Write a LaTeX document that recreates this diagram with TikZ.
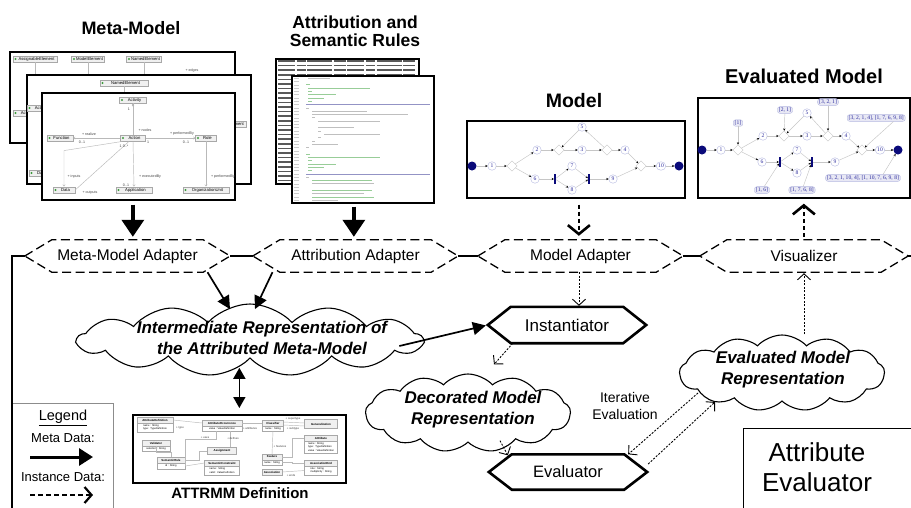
\documentclass[tikz,border=0pt]{standalone}
\usepackage{fontspec}
\setmainfont{Liberation Sans}
\newfontfamily\smallserif{Liberation Serif}
\usetikzlibrary{arrows.meta,shapes.geometric,shapes.symbols,calc}

\definecolor{nblue}{HTML}{2B2B9E}
\definecolor{nborder}{HTML}{B4B8E0}
\definecolor{lblfill}{HTML}{E8E8F4}
\definecolor{darkdot}{HTML}{0A0A7A}
\definecolor{umlgray}{HTML}{A8A8A8}
\definecolor{umlfill}{HTML}{F0F0F0}
\definecolor{iconc}{HTML}{3C9A3C}
\definecolor{legendgray}{HTML}{8C8C8C}

\newcommand\hexdraw[3]{%
  \draw[#1] (#2.west) -- ([xshift=#3]#2.north west) -- ([xshift=-#3]#2.north east)
    -- (#2.east) -- ([xshift=-#3]#2.south east) -- ([xshift=#3]#2.south west) -- cycle;}
\newcommand\umlbox[7]{%
  \node[umlh, minimum width=#4] (#1) at (#2,#3) {#5};
  \node[umlb, minimum width=#4, minimum height=#7, anchor=north] (#1b) at (#1.south) {#6};}

\tikzset{
  title/.style={font=\fontsize{18}{20}\selectfont\bfseries, inner sep=0, align=center},
  shot/.style={draw=black, line width=1.7pt, fill=white, inner sep=0, anchor=north west},
  hexbox/.style={inner sep=0, minimum height=32pt, font=\fontsize{15.5}{17}\selectfont},
  adapter/.style={line width=1.3pt, dash pattern=on 9pt off 4.5pt},
  engine/.style={line width=2.6pt, line join=miter},
  cloudbox/.style={cloud, cloud puffs=13, cloud puff arc=95, draw, line width=1.1pt, fill=white, inner sep=0},
  cloudtext/.style={font=\fontsize{17}{21}\selectfont\bfseries\itshape, align=center, inner sep=0},
  metaarrow/.style={line width=3.4pt, -{Triangle[length=17pt,width=22pt]}},
  metathin/.style={line width=1.7pt, -{Triangle[length=13pt,width=13pt]}},
  metaboth/.style={line width=1.7pt, {Triangle[length=11pt,width=12pt]}-{Triangle[length=11pt,width=12pt]}},
  instthick/.style={line width=2.6pt, dash pattern=on 4pt off 3pt, -{Straight Barb[length=9pt,width=22pt,line width=2.6pt]}},
  instthin/.style={line width=0.9pt, dash pattern=on 2pt off 1.5pt, -{Straight Barb[length=6pt,width=13pt,line width=0.9pt]}},
  bound/.style={line width=1.3pt},
  uml/.style={draw=umlgray, fill=umlfill, line width=0.35pt, font=\fontsize{4.2}{5}\selectfont, inner xsep=1pt, inner ysep=0.8pt, minimum height=6.5pt},
  umlline/.style={draw=gray!55, line width=0.45pt},
  umllbl/.style={font=\fontsize{3.6}{4}\selectfont, inner sep=0, text=gray!50!black},
  umlh/.style={draw=umlgray, fill=umlfill, line width=0.3pt, font=\fontsize{2.9}{3.4}\selectfont\bfseries, inner sep=0.6pt, minimum height=5.5pt},
  umlb/.style={draw=umlgray, fill=white, line width=0.3pt, font=\fontsize{2.6}{3.1}\selectfont, inner sep=0.6pt, align=left},
  mn/.style={ellipse, draw=nborder, fill=white, line width=0.4pt, inner sep=0.6pt, minimum size=8.5pt, font=\smallserif\fontsize{5.6}{6}\selectfont, text=nblue},
  mdia/.style={diamond, draw=gray!45, fill=white, line width=0.4pt, minimum size=10.5pt, inner sep=0},
  mdot/.style={circle, fill=darkdot, minimum size=9pt, inner sep=0},
  mbar/.style={rectangle, fill=darkdot, minimum width=1.8pt, minimum height=10.5pt, inner sep=0},
  medge/.style={draw=gray!45, line width=0.45pt, -{Stealth[length=2.3pt,width=2.2pt,black]}},
  elbl/.style={rectangle, rounded corners=2.5pt, fill=lblfill, draw=nborder, line width=0.35pt, font=\smallserif\fontsize{5.6}{6}\selectfont, text=nblue, inner xsep=1.5pt, inner ysep=1pt},
  codek/.style={draw=gray!50, line width=0.9pt},
  codeg/.style={draw=green!35!gray!60, line width=0.9pt},
  codeb/.style={draw=blue!30!gray!65, line width=0.9pt},
  codeback/.style={draw=black!65, line width=1.5pt, dash pattern=on 17pt off 1.6pt on 9pt off 1.6pt on 25pt off 1.6pt on 12pt off 1.6pt}
}

\begin{document}
\begin{tikzpicture}[x=1pt,y=-1pt]
\useasboundingbox (0,0) rectangle (911,507);
\fill[white] (0,0) rectangle (911,507);

% ---------- titles
\node[title] (tmm) at (131,28) {Meta-Model};
\node[title, font=\fontsize{17.5}{18.5}\selectfont\bfseries] (tar) at (355,31) {Attribution and\\Semantic Rules};
\node[title, font=\fontsize{19.5}{20}\selectfont\bfseries] (tmo) at (574,101) {Model};
\node[title, font=\fontsize{20}{20}\selectfont\bfseries] (tem) at (804,76) {Evaluated Model};

% ---------- meta-model screenshots
\node[shot, minimum width=225pt, minimum height=91pt] (mmA) at (9,51) {};
\node[uml, minimum width=44pt] (u1) at (35,59) {\hspace{3pt}AssignableElement};
\node[uml, minimum width=33pt] (u2) at (88,59) {\hspace{3pt}ModelElement};
\node[uml, minimum width=35pt] (u3) at (144,59) {\hspace{3pt}NamedElement};
\draw[umlline] (u1.south) -- ++(0,20);
\draw[umlline] (u2.south) -- ++(0,20);
\draw[umlline] (u3.south) -- ++(0,20);
\node[umllbl] (lbA1) at (192,71) {+ edges};
\node[uml, minimum width=26pt] (u4) at (26,113) {\hspace{3pt}Activity};
\foreach \n in {u1,u2,u3,u4} \fill[iconc] ([xshift=2.6pt]\n.west) circle (1.1pt);

\node[shot, minimum width=224pt, minimum height=109pt] (mmB) at (26,74) {};
\node[uml, minimum width=48pt] (u5) at (124,83) {\hspace{3pt}NamedElement};
\draw[umlline] (u5.south) -- ++(0,12);
\node[uml, minimum width=26pt] (u6) at (40,108) {\hspace{3pt}Activity};
\node[uml, minimum width=36pt] (u7) at (228,124) {\hspace{3pt}ActivityElement};
\node[uml, minimum width=22pt] (u8) at (40,173) {\hspace{3pt}Data};
\foreach \n in {u5,u6,u7,u8} \fill[iconc] ([xshift=2.6pt]\n.west) circle (1.1pt);

\node[shot, minimum width=193pt, minimum height=107pt] (mmC) at (41,92) {};
\node[uml, minimum width=27pt] (fa) at (133,100) {\hspace{3pt}Activity};
\node[uml, minimum width=25pt] (fac) at (133,138) {\hspace{3pt}Action};
\node[uml, minimum width=26pt] (ff) at (60,138) {\hspace{3pt}Function};
\node[uml, minimum width=21pt] (fr) at (206,138) {\hspace{3pt}Role};
\node[uml, minimum width=22pt] (fd) at (64,190) {\hspace{3pt}Data};
\node[uml, minimum width=36pt] (fap) at (134,190) {\hspace{3pt}Application};
\node[uml, minimum width=46pt] (fo) at (206,190) {\hspace{3pt}OrganizationUnit};
\foreach \n in {fa,fac,ff,fr,fd,fap,fo} \fill[iconc] ([xshift=2.6pt]\n.west) circle (1.1pt);
\draw[umlline] (fa.south) -- (fac.north);
\fill[gray!60] (fa.south) -- ++(1.2,1.6) -- ++(-1.2,1.6) -- ++(-1.2,-1.6) -- cycle;
\draw[umlline, -{Straight Barb[length=1.6pt,width=2.4pt]}] (fac.west) -- (ff.east);
\draw[umlline, -{Straight Barb[length=1.6pt,width=2.4pt]}] (fac.east) -- (fr.west);
\draw[umlline, -{Straight Barb[length=1.6pt,width=2.4pt]}] ([xshift=2pt]fac.south west) -- ($(fd.north)+(0,-36)$) -- (fd.north);
\draw[umlline] (fd.east) -- ([xshift=-4pt]fac.south);
\draw[umlline, -{Straight Barb[length=1.6pt,width=2.4pt]}] (fac.south) -- (fap.north);
\draw[umlline, -{Straight Barb[length=1.6pt,width=2.4pt]}] (fr.south) -- (fo.north);
\node[umllbl] (l1) at (89,134) {+ realize};
\node[umllbl] (l2) at (82,142) {0..1};
\node[umllbl] (l3) at (145,130) {+ nodes};
\node[umllbl] (l4) at (129,109) {1};
\node[umllbl] (l5) at (182,134) {+ performedBy};
\node[umllbl] (l6) at (186,142) {0..1};
\node[umllbl] (l7) at (148,142) {1};
\node[umllbl] (l8) at (124,146) {1\,\,0..*};
\node[umllbl] (l9) at (74,177) {+ inputs};
\node[umllbl] (l10) at (90,193) {+ outputs};
\node[umllbl] (l11) at (150,177) {+ executedBy};
\node[umllbl] (l12) at (126,185) {0..1};
\node[umllbl] (l13) at (223,177) {+ performedBy};

% ---------- code screenshots
\node[shot, minimum width=143pt, minimum height=125pt] (cdA) at (275,58) {};
\foreach \k in {0,...,26} \draw[codeback] (278,61+4.6*\k) -- (415,61+4.6*\k);
\node[shot, minimum width=142pt, minimum height=127pt] (cdB) at (291,75) {};
\foreach \ind/\len/\st [count=\i] in {8/22/codek, 0/0/codek, 6/4/codeg, 8/62/codeg, 8/4/codeg, 8/28/codeg, 8/16/codeg, 8/4/codeg, 6/124/codeb, 6/3/codek, 12/55/codek, 12/96/codek, 12/3/codek, 18/62/codek, 18/0/codek, 18/36/codek, 18/3/codek, 24/56/codek, 18/3/codek, 12/3/codek, 12/26/codek, 6/3/codek, 0/0/codek, 6/4/codeg, 8/72/codeg, 8/4/codeg, 8/28/codeg, 8/16/codeg, 8/4/codeg, 6/124/codeb, 6/3/codek, 12/60/codeg, 12/62/codek, 0/0/codek, 12/60/codeg, 12/52/codek, 12/62/codeg, 12/26/codek}
{
  \draw[gray!40, line width=0.8pt] (294,75+3.3*\i) -- (298.5,75+3.3*\i);
  \draw[\st] (300+\ind,75+3.3*\i) -- ++(\len,0);
}

% ---------- model screenshot
\node[shot, minimum width=218pt, minimum height=77pt] (mof) at (466,120) {};
\node[mdot] (s0) at (472,166) {};
\node[mn] (n1) at (492,166) {1};
\node[mdia] (d1) at (512,166) {};
\node[mn] (n2) at (537,150) {2};
\node[mdia] (d2) at (559,150) {};
\node[mn] (n3) at (582,150) {3};
\node[mn] (n5) at (582,127) {5};
\node[mdia] (d3) at (607,150) {};
\node[mn] (n4) at (625,150) {4};
\node[mdia] (d4) at (641,166) {};
\node[mn] (n10) at (661,166) {10};
\node[mdot] (e0) at (679,166) {};
\node[mn] (n6) at (535,179) {6};
\node[mbar] (f1) at (555,179) {};
\node[mn] (n7) at (572,166) {7};
\node[mn] (n8) at (572,190) {8};
\node[mbar] (j1) at (589,179) {};
\node[mn] (n9) at (613,179) {9};
\foreach \a/\b in {s0/n1, n1/d1, d1/n2, d1/n6, n2/d2, d2/n3, n3/d3, d3/n4, d3/n5, n5/d2, n4/d4, n9/d4, d4/n10, n10/e0, n6/f1, f1/n7, f1/n8, n7/j1, n8/j1, j1/n9}
  \draw[medge] (\a) -- (\b);

% ---------- evaluated model screenshot
\node[shot, minimum width=212pt, minimum height=100pt] (emf) at (697,97) {};
\node[mdot] (es0) at (702,150) {};
\node[mn] (en1) at (721,150) {1};
\node[mdia] (ed1) at (738,150) {};
\node[mn] (en2) at (763,136) {2};
\node[mdia] (ed2) at (784,136) {};
\node[mn] (en3) at (807,136) {3};
\node[mn] (en5) at (807,113) {5};
\node[mdia] (ed3) at (828,136) {};
\node[mn] (en4) at (846,136) {4};
\node[mdia] (ed4) at (862,150) {};
\node[mn] (en10) at (880,150) {10};
\node[mdot] (ee0) at (898,150) {};
\node[mn] (en6) at (762,162) {6};
\node[mbar] (ef1) at (780,162) {};
\node[mn] (en7) at (797,150) {7};
\node[mn] (en8) at (797,173) {8};
\node[mbar] (ej1) at (812,162) {};
\node[mn] (en9) at (835,162) {9};
\foreach \a/\b in {es0/en1, en1/ed1, ed1/en2, ed1/en6, en2/ed2, ed2/en3, en3/ed3, ed3/en4, ed3/en5, en5/ed2, en4/ed4, en9/ed4, ed4/en10, en10/ee0, en6/ef1, ef1/en7, ef1/en8, en7/ej1, en8/ej1, ej1/en9}
  \draw[medge] (\a) -- (\b);
\node[elbl] (el1) at (738,123) {[1]};
\node[elbl] (el2) at (785,110) {[2, 1]};
\node[elbl] (el3) at (828,102) {[3, 2, 1]};
\node[elbl, anchor=west] (el4) at (847,118) {[3, 2, 1, 4], [1, 7, 6, 9, 8]};
\node[elbl] (el5) at (863,178) {[3, 2, 1, 10, 4], [1, 10, 7, 6, 9, 8]};
\node[elbl] (el6) at (762,190) {[1, 6]};
\node[elbl] (el7) at (802,190) {[1, 7, 6, 8]};
\draw[medge] (el1) -- (ed1);
\draw[medge] (el2) -- (ed2);
\draw[medge] (el3) -- (ed3);
\draw[medge] ([xshift=-12pt]el4.south east) -- (ed4);
\draw[medge] ([xshift=20pt]el5.north) -- (ee0);
\draw[medge] (el6) -- (ef1);
\draw[medge] (el7) -- (ej1);

% ---------- ATTRMM screenshot
\node[shot, minimum width=213pt, minimum height=68pt] (atf) at (132,414) {};
\umlbox{ad}{155}{420}{36pt}{AttributeDefinition}{name : String\\type : TypeDefinition}{9pt}
\umlbox{ao}{222}{423}{40pt}{AttributeOccurrence}{value : ValueDefinition}{5pt}
\umlbox{cl}{273}{423}{21pt}{Classifier}{name : String}{5pt}
\node[umlh, minimum width=33pt, minimum height=9pt] (ge) at (321,424) {Generalization};
\umlbox{va}{156}{443}{28pt}{Validator}{selection : String}{5pt}
\node[umlh, minimum width=29pt, minimum height=7pt] (as) at (222,451) {Assignment};
\umlbox{sr}{171}{460}{28pt}{SemanticRule}{id : String}{6pt}
\umlbox{sc}{222}{463}{35pt}{SemanticConstraint}{name : String\\valid : ValueDefinition}{9pt}
\umlbox{fe}{272}{457}{20pt}{Feature}{name : String}{5pt}
\umlbox{at}{321}{438}{33pt}{Attribute}{name : String\\type : TypeDefinition\\value : ValueDefinition}{12pt}
\umlbox{ae}{321}{463}{33pt}{AssociationEnd}{role : String\\multiplicity : String}{9pt}
\node[umlh, minimum width=20pt, minimum height=6pt] (an) at (272,472) {Association};
\draw[umlline] (ad.east) -- (ao.west);
\draw[umlline] (ao.east) -- (cl.west);
\draw[umlline] ([yshift=1pt]cl.east) -- ([yshift=1pt]ge.west);
\draw[umlline] ([yshift=-2pt]cl.east) -- ([yshift=-2pt]ge.west);
\draw[umlline] ([xshift=-6pt]aob.south) -- ++(0,8) -| (srb.east);
\draw[umlline] ([xshift=8pt]aob.south) -- (as.north -| 230,0);
\draw[umlline] (va.south) -- ++(0,6) -| (sr.north);
\draw[umlline] (as.west) -- ++(-8,0) |- (sr.east);
\draw[umlline] (sc.west) -- (srb.east);
\draw[umlline] (clb.south) -- (fe.north);
\draw[umlline] (fe.east) -- ++(10,0) |- (at.west);
\draw[umlline] (feb.east) -- ++(10,0) |- (ae.west);
\draw[umlline] (an.east) -- (aeb.west);
\node[umllbl, font=\fontsize{2.8}{3}\selectfont] (al1) at (180,428) {+ type};
\node[umllbl, font=\fontsize{2.8}{3}\selectfont] (al2) at (250,428) {+ attributes};
\node[umllbl, font=\fontsize{2.8}{3}\selectfont] (al3) at (293,419) {+ supertype};
\node[umllbl, font=\fontsize{2.8}{3}\selectfont] (al4) at (293,429) {+ subtype};
\node[umllbl, font=\fontsize{2.8}{3}\selectfont] (al5) at (205,438) {+ uses};
\node[umllbl, font=\fontsize{2.8}{3}\selectfont] (al6) at (233,438) {+ defines};
\node[umllbl, font=\fontsize{2.8}{3}\selectfont] (al7) at (280,446) {+ features};
\node[umllbl, font=\fontsize{2.8}{3}\selectfont] (al8) at (291,475) {+ ends};
\node[title, font=\fontsize{15}{16}\selectfont\bfseries] (tat) at (240,493) {ATTRMM Definition};

% ---------- hexagons
\node[hexbox, minimum width=205pt] (mma) at (127.5,256) {Meta-Model Adapter};
\node[hexbox, minimum width=205pt] (aa) at (355.5,256) {Attribution Adapter};
\node[hexbox, minimum width=205pt] (ma) at (580.5,256) {Model Adapter};
\node[hexbox, minimum width=208pt] (vis) at (804,256) {Visualizer};
\hexdraw{adapter}{mma}{27pt}
\hexdraw{adapter}{aa}{27pt}
\hexdraw{adapter}{ma}{27pt}
\hexdraw{adapter}{vis}{27pt}
\node[hexbox, minimum width=158pt, minimum height=36pt, font=\fontsize{17}{18}\selectfont] (inst) at (567,325) {Instantiator};
\hexdraw{engine}{inst}{23pt}
\node[hexbox, minimum width=158pt, minimum height=35pt, font=\fontsize{16.5}{18}\selectfont] (ev) at (568,472) {Evaluator};
\hexdraw{engine}{ev}{23pt}

% ---------- boundary
\coordinate (bl) at (12,510);
\coordinate (bc) at (12,256);
\coordinate (br) at (915,256);
\draw[bound] (bl) -- (bc) -- (mma.west);
\draw[bound] (mma.east) -- (aa.west);
\draw[bound] (aa.east) -- (ma.west);
\draw[bound] (ma.east) -- (vis.west);
\draw[bound] (vis.east) -- (br);

% ---------- clouds
\node[cloudbox, aspect=5.2, minimum width=345pt, minimum height=72pt] (irep) at (250,340) {};
\node[cloudtext] (ireptxt) at (262,338) {Intermediate Representation of\\the Attributed Meta-Model};
\node[cloudbox, aspect=2.8, minimum width=205pt, minimum height=78pt] (dec) at (468,413) {};
\node[cloudtext] (dectxt) at (473,410) {Decorated Model\\Representation};
\node[cloudbox, aspect=2.8, minimum width=205pt, minimum height=76pt] (evrep) at (782,373) {};
\node[cloudtext] (evreptxt) at (783,370) {Evaluated Model\\Representation};

\node[align=center, inner sep=0, font=\fontsize{14}{17}\selectfont] (itev) at (625,406) {Iterative\\Evaluation};

% ---------- meta-data arrows
\draw[metaarrow, shorten <=4pt, shorten >=3pt] ([xshift=-5.5pt]mmC.south) -- ([xshift=-5.5pt]mmC.south |- mma.north);
\draw[metaarrow, shorten <=3pt, shorten >=3pt] ([xshift=-9pt]cdB.south) -- ([xshift=-9pt]cdB.south |- aa.north);
\draw[metathin] ([xshift=80pt]mma.south) -- ([xshift=-32pt,yshift=12pt]ireptxt.north);
\draw[metathin] ([xshift=-83pt]aa.south) -- ([xshift=-7pt,yshift=12pt]ireptxt.north);
\draw[metathin, shorten >=2pt] ([xshift=12pt,yshift=-8pt]ireptxt.east) -- (inst.west);
\draw[metaboth, shorten <=9pt, shorten >=6pt] (irep.south -| atf.north) -- (atf.north);

% ---------- instance-data arrows
\draw[instthick, shorten <=6pt, shorten >=4pt] ([xshift=3pt]mof.south) -- ([xshift=3pt]mof.south |- ma.north);
\draw[instthick, shorten <=3pt, shorten >=5pt] (vis.north -| emf.south) -- (emf.south);
\draw[instthin, shorten >=1pt] ([xshift=-1.5pt]ma.south) -- ([xshift=-1.5pt]ma.south |- inst.north);
\draw[instthin] ([xshift=25pt]inst.south west) -- ([xshift=26pt,yshift=9pt]dec.north);
\draw[instthin] ([xshift=27pt,yshift=-12pt]dectxt.south) -- ([xshift=19pt,yshift=-1pt]ev.north west);
\draw[instthin] ([xshift=-84pt,yshift=-20pt]evrep.center) -- ([xshift=-19pt]ev.north east);
\draw[instthin] ([xshift=1pt,yshift=8pt]ev.east) -- ([xshift=-67pt,yshift=-29pt]evrep.center);
\draw[instthin, shorten >=1pt] (vis.south |- evrep.north) -- (vis.south);

% ---------- legend
\node[draw=legendgray, line width=0.6pt, anchor=north west, minimum width=101pt, minimum height=110pt, inner sep=0] (legend) at (12,403) {};
\draw[bound] (bl) -- (bc);
\node[inner sep=0, font=\fontsize{14.5}{16}\selectfont] (lgt) at (63,418) {\underline{Legend}};
\node[inner sep=0, font=\fontsize{13}{15}\selectfont] (lgm) at (63,438) {Meta Data:};
\coordinate (lm1) at (30,457);
\coordinate (lm2) at (93,457);
\draw[line width=3pt, -{Triangle[length=14pt,width=17pt]}] (lm1) -- (lm2);
\node[inner sep=0, font=\fontsize{13}{15}\selectfont] (lgi) at (63,477) {Instance Data:};
\coordinate (li1) at (30,495);
\coordinate (li2) at (93,495);
\draw[line width=2.2pt, dash pattern=on 5pt off 3pt, -{Straight Barb[length=7pt,width=16pt,line width=2.2pt]}] (li1) -- (li2);

% ---------- attribute evaluator label
\node[draw, line width=1pt, anchor=north west, minimum width=200pt, minimum height=100pt, inner sep=0] (aebox) at (743,428) {};
\node[align=center, inner sep=0, font=\fontsize{26}{30}\selectfont] (aetxt) at (817,467) {Attribute\\Evaluator};
\end{tikzpicture}
\end{document}
